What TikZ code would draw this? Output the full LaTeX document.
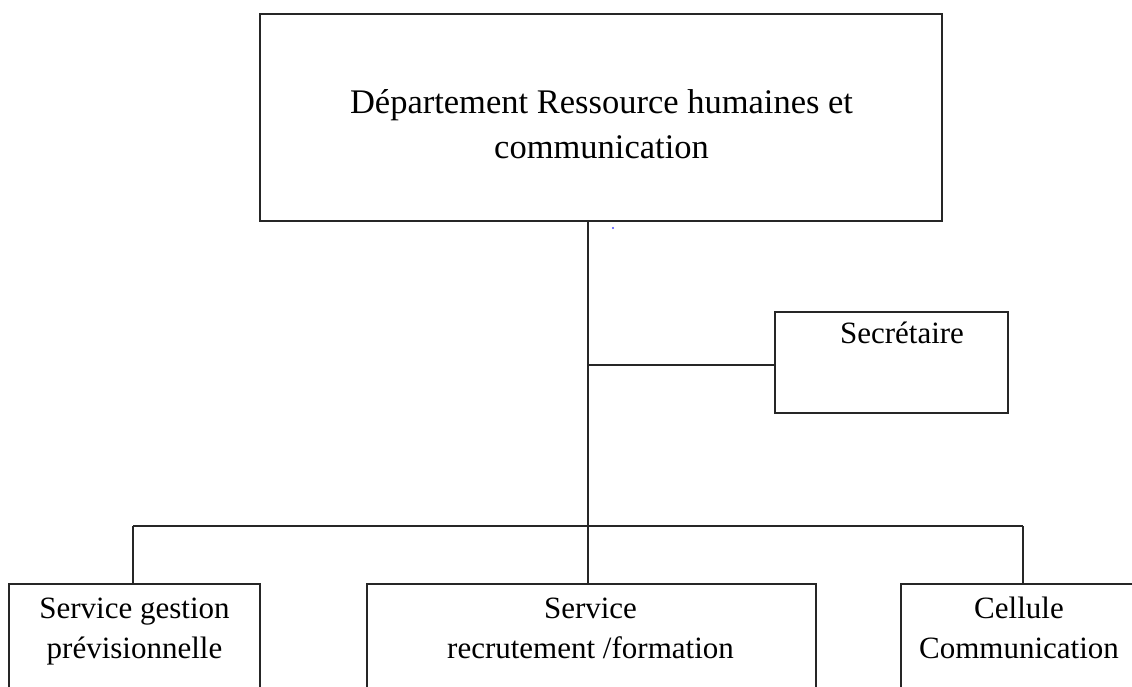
\documentclass[tikz,border=0pt]{standalone}
\usepackage{fontspec}
\setmainfont{Liberation Serif}
\begin{document}
\begin{tikzpicture}[x=1pt,y=1pt,
  box/.style={draw=black!85,line width=1.6pt,rectangle,inner sep=0pt},
  wire/.style={draw=black!85,line width=1.6pt},
  bigtxt/.style={anchor=base,inner sep=0pt,font=\fontsize{34.5}{45}\selectfont},
  smalltxt/.style={anchor=base,inner sep=0pt,font=\fontsize{31}{40}\selectfont}]
\useasboundingbox (0,0) rectangle (1132,-686);
\clip (0,0) rectangle (1132,-686);
% boxes
\node[box,minimum width=682pt,minimum height=207pt] (top) at (601,-117.5) {};
\node[box,minimum width=233pt,minimum height=101pt] (sec) at (891.5,-362.5) {};
\node[box,minimum width=251pt,minimum height=116pt] (left) at (134.5,-642) {};
\node[box,minimum width=449pt,minimum height=116pt] (mid) at (591.5,-642) {};
\node[box,minimum width=244pt,minimum height=116pt] (right) at (1023,-642) {};
% texts
\node[bigtxt] (topA) at (601.5,-113) {Département Ressource humaines et};
\node[bigtxt] (topB) at (601.5,-158) {communication};
\node[smalltxt] (secA) at (902,-343) {Secrétaire};
\node[smalltxt] (leftA) at (134.5,-618) {Service gestion};
\node[smalltxt] (leftB) at (134.5,-658) {prévisionnelle};
\node[smalltxt] (midA) at (590.5,-618) {Service};
\node[smalltxt] (midB) at (590.5,-658) {recrutement /formation};
\node[smalltxt] (rightA) at (1019,-618) {Cellule};
\node[smalltxt] (rightB) at (1019,-658) {Communication};
% junctions
\coordinate (jsec) at (588,-365);
\coordinate (jbus) at (588,-526);
\coordinate (bl) at (133,-526);
\coordinate (br) at (1023,-526);
% connectors
\draw[wire] (top.south -| jbus) -- (jbus);
\draw[wire] (jsec) -- (sec.west |- jsec);
\draw[wire] (bl) -- (br);
\draw[wire] (bl) -- (bl |- left.north);
\draw[wire] (jbus) -- (jbus |- mid.north);
\draw[wire] (br) -- (br |- right.north);
% stray dot
\fill[blue!70] (613,-228) circle (1.2pt);
\end{tikzpicture}
\end{document}
